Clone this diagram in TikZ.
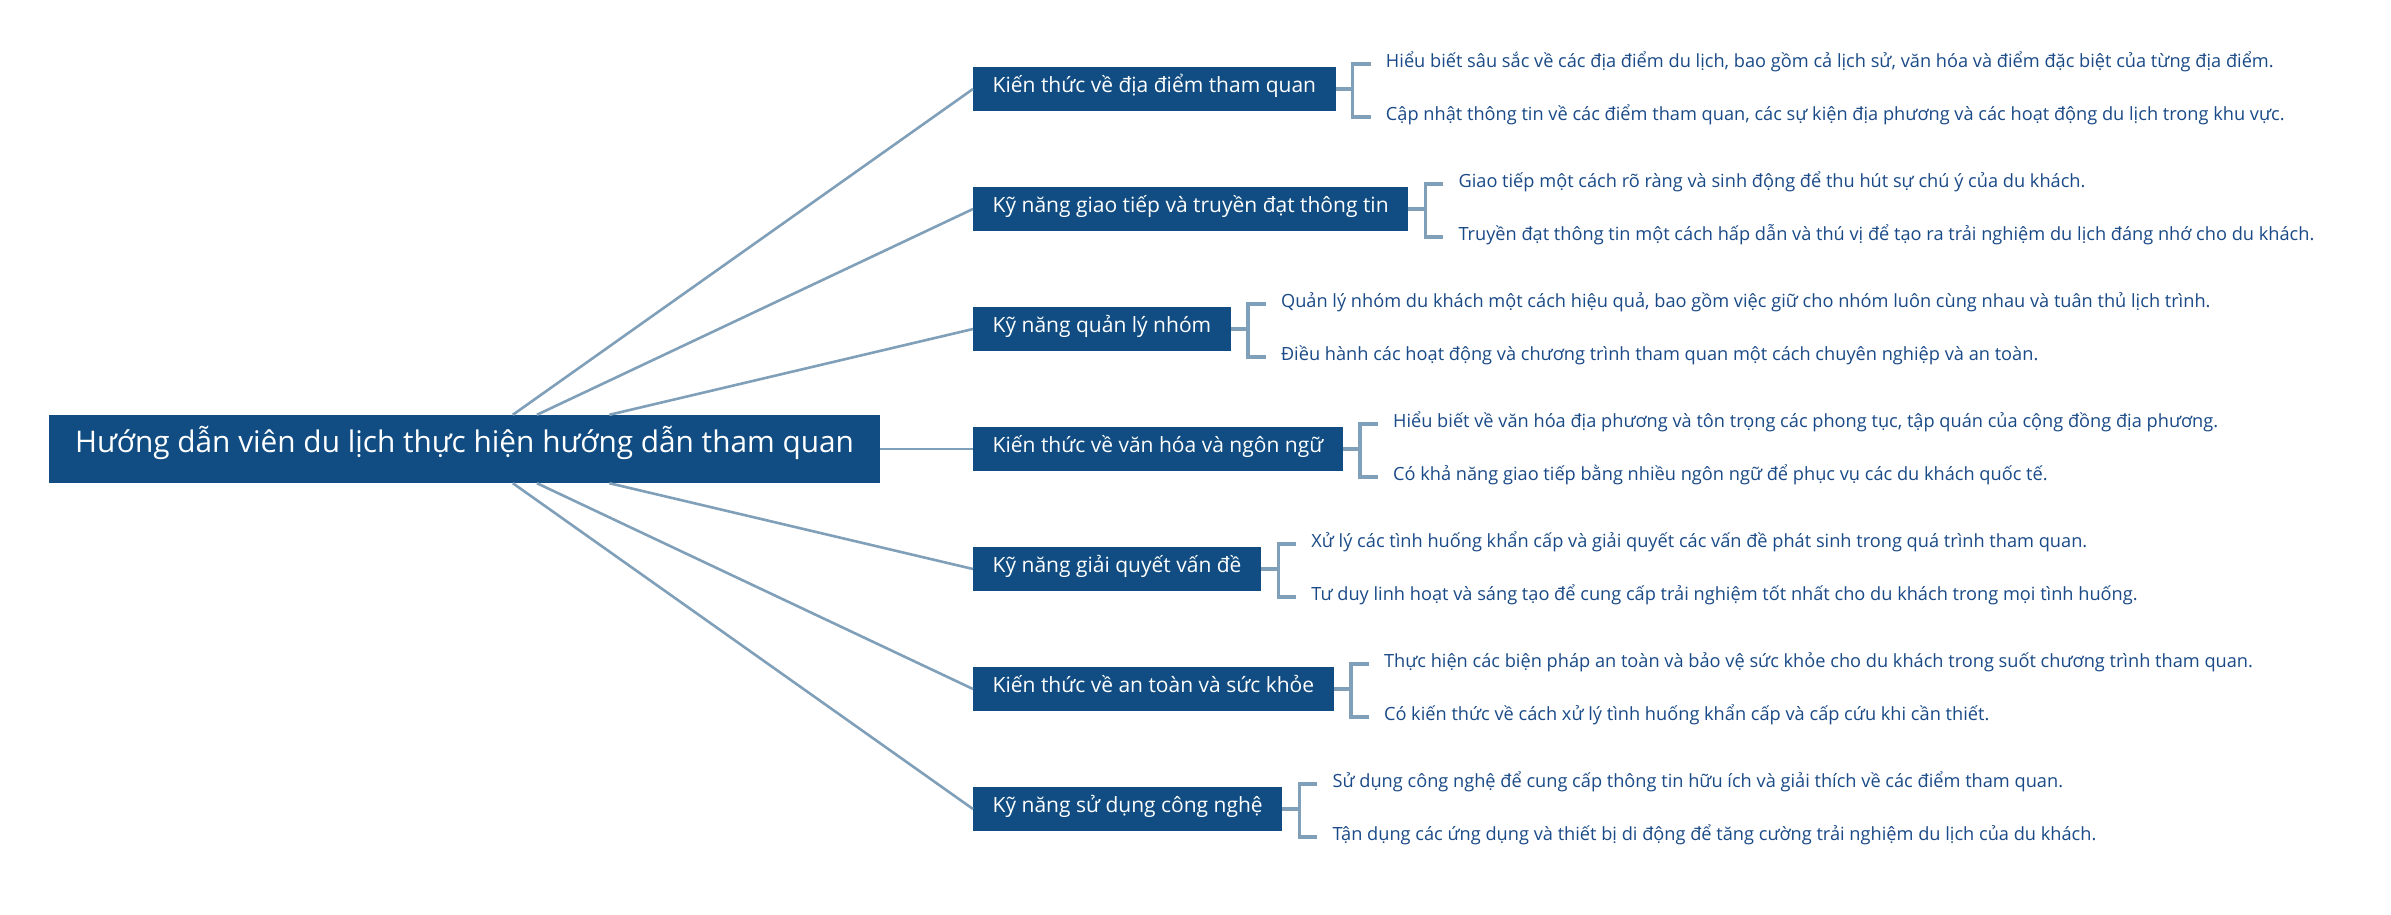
\documentclass[tikz,border=0pt]{standalone}
\usepackage{fontspec}
\setmainfont{Open Sans}
\usetikzlibrary{calc}
\definecolor{boxblue}{RGB}{17,77,130}
\definecolor{twigblue}{RGB}{128,160,186}
\definecolor{leafblue}{RGB}{26,74,135}
\def\bracket(#1)(#2)(#3){\draw[twig] (#1.east) -- ++(17,0); \draw[twig] ([xshift=-15pt]#2.west) -| ([xshift=17pt]#1.east) |- ([xshift=-15pt]#3.west);}

\begin{document}
\begin{tikzpicture}[x=1pt, y=-1pt,
	rootbox/.style={fill=boxblue, text=white, inner xsep=26pt, inner ysep=0pt, minimum height=68pt, text height=0.9em, text depth=0.19em, font=\fontsize{29.8}{36}\selectfont},
	branchbox/.style={fill=boxblue, text=white, anchor=west, inner xsep=19.5pt, inner ysep=0pt, minimum height=44pt, text height=0.9em, text depth=0.19em, font=\fontsize{21}{26}\selectfont},
	leaf/.style={text=leafblue, anchor=west, inner sep=0pt, text height=0.9em, text depth=0.19em, font=\fontsize{18.2}{22}\selectfont},
	stem/.style={draw=twigblue, line width=2.6pt},
	twig/.style={draw=twigblue, line width=3.4pt}]
			%%%%% START %%%%%
			
			\fill[white] (0,0) rectangle (2391,915);
			\useasboundingbox (0,0) rectangle (2391,915);
			
			\node[rootbox] (root) at (464.5,449) {Hướng dẫn viên du lịch thực hiện hướng dẫn tham quan};
			
			\node[branchbox] (b1) at (973,89) {Kiến thức về địa điểm tham quan};
			\node[branchbox] (b2) at (973,209) {Kỹ năng giao tiếp và truyền đạt thông tin};
			\node[branchbox] (b3) at (973,329) {Kỹ năng quản lý nhóm};
			\node[branchbox] (b4) at (973,449) {Kiến thức về văn hóa và ngôn ngữ};
			\node[branchbox] (b5) at (973,569) {Kỹ năng giải quyết vấn đề};
			\node[branchbox] (b6) at (973,689) {Kiến thức về an toàn và sức khỏe};
			\node[branchbox] (b7) at (973,809) {Kỹ năng sử dụng công nghệ};
			
			\draw[stem] (root) -- (b1.west);
			\draw[stem] (root) -- (b2.west);
			\draw[stem] (root) -- (b3.west);
			\draw[stem] (root) -- (b4.west);
			\draw[stem] (root) -- (b5.west);
			\draw[stem] (root) -- (b6.west);
			\draw[stem] (root) -- (b7.west);
			
			\node[leaf] (l1a) at ($(b1.east)+(50,-25)$) {Hiểu biết sâu sắc về các địa điểm du lịch, bao gồm cả lịch sử, văn hóa và điểm đặc biệt của từng địa điểm.};
			\node[leaf] (l1b) at ($(b1.east)+(50,28)$) {Cập nhật thông tin về các điểm tham quan, các sự kiện địa phương và các hoạt động du lịch trong khu vực.};
			\bracket(b1)(l1a)(l1b)
			
			\node[leaf] (l2a) at ($(b2.east)+(50,-25)$) {Giao tiếp một cách rõ ràng và sinh động để thu hút sự chú ý của du khách.};
			\node[leaf] (l2b) at ($(b2.east)+(50,28)$) {Truyền đạt thông tin một cách hấp dẫn và thú vị để tạo ra trải nghiệm du lịch đáng nhớ cho du khách.};
			\bracket(b2)(l2a)(l2b)
			
			\node[leaf] (l3a) at ($(b3.east)+(50,-25)$) {Quản lý nhóm du khách một cách hiệu quả, bao gồm việc giữ cho nhóm luôn cùng nhau và tuân thủ lịch trình.};
			\node[leaf] (l3b) at ($(b3.east)+(50,28)$) {Điều hành các hoạt động và chương trình tham quan một cách chuyên nghiệp và an toàn.};
			\bracket(b3)(l3a)(l3b)
			
			\node[leaf] (l4a) at ($(b4.east)+(50,-25)$) {Hiểu biết về văn hóa địa phương và tôn trọng các phong tục, tập quán của cộng đồng địa phương.};
			\node[leaf] (l4b) at ($(b4.east)+(50,28)$) {Có khả năng giao tiếp bằng nhiều ngôn ngữ để phục vụ các du khách quốc tế.};
			\bracket(b4)(l4a)(l4b)
			
			\node[leaf] (l5a) at ($(b5.east)+(50,-25)$) {Xử lý các tình huống khẩn cấp và giải quyết các vấn đề phát sinh trong quá trình tham quan.};
			\node[leaf] (l5b) at ($(b5.east)+(50,28)$) {Tư duy linh hoạt và sáng tạo để cung cấp trải nghiệm tốt nhất cho du khách trong mọi tình huống.};
			\bracket(b5)(l5a)(l5b)
			
			\node[leaf] (l6a) at ($(b6.east)+(50,-25)$) {Thực hiện các biện pháp an toàn và bảo vệ sức khỏe cho du khách trong suốt chương trình tham quan.};
			\node[leaf] (l6b) at ($(b6.east)+(50,28)$) {Có kiến thức về cách xử lý tình huống khẩn cấp và cấp cứu khi cần thiết.};
			\bracket(b6)(l6a)(l6b)
			
			\node[leaf] (l7a) at ($(b7.east)+(50,-25)$) {Sử dụng công nghệ để cung cấp thông tin hữu ích và giải thích về các điểm tham quan.};
			\node[leaf] (l7b) at ($(b7.east)+(50,28)$) {Tận dụng các ứng dụng và thiết bị di động để tăng cường trải nghiệm du lịch của du khách.};
			\bracket(b7)(l7a)(l7b)
			
			%%%%% END %%%%%
\end{tikzpicture}
\end{document}
